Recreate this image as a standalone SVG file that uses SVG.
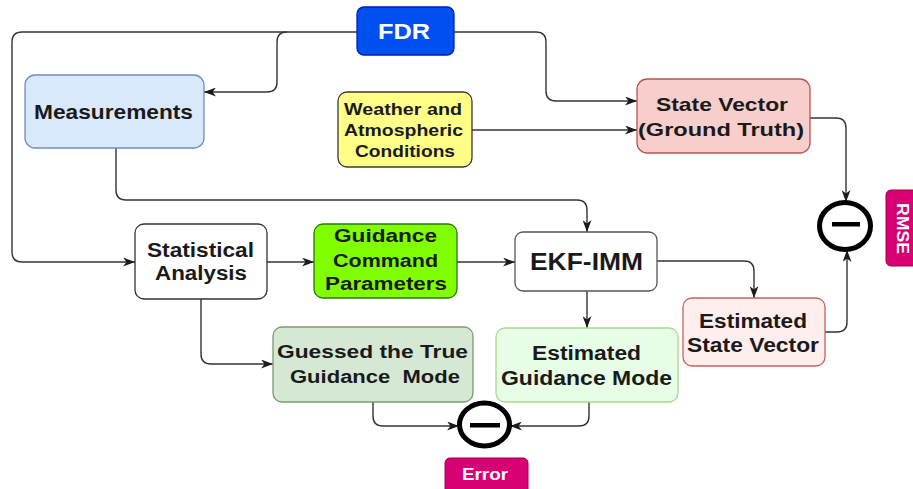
<svg xmlns="http://www.w3.org/2000/svg" width="913" height="489" viewBox="0 0 913 489">
<defs>
<marker id="arr" viewBox="0 0 12 9" refX="12" refY="4.5" markerWidth="12" markerHeight="9" markerUnits="userSpaceOnUse" orient="auto">
<path d="M0,0 L12,4.5 L0,9 L3.5,4.5 z" fill="#1a1a1a"/>
</marker>
</defs>
<style>
text{font-family:"Liberation Sans",Arial,Helvetica,sans-serif;font-weight:bold;text-anchor:middle;fill:#1a1a1a}
.w{fill:#ffffff}
.c{fill:none;stroke:#333333;stroke-width:1.4;marker-end:url(#arr)}
.n{stroke-width:1.3}
.op{fill:none;stroke:#000000;stroke-width:5}
</style>
<rect width="913" height="489" fill="#ffffff"/>
<g id="connectors">
<path class="c" d="M357,32 H22 Q12,32 12,42 V252 Q12,262 22,262 H135"/>
<path class="c" d="M287,32 Q277,32 277,42 V82 Q277,92 267,92 H204"/>
<path class="c" d="M454,32 H536 Q546,32 546,42 V91 Q546,101 556,101 H637"/>
<path class="c" d="M472,130 H637"/>
<path class="c" d="M116,148 V190 Q116,200 126,200 H577 Q587,200 587,210 V232"/>
<path class="c" d="M810,118 H836 Q846,118 846,128 V202"/>
<path class="c" d="M825,332 H837 Q847,332 847,322 V250"/>
<path class="c" d="M267,262 H314"/>
<path class="c" d="M457,262 H515"/>
<path class="c" d="M657,261 H744 Q754,261 754,271 V298"/>
<path class="c" d="M587,291 V328"/>
<path class="c" d="M201,299 V354 Q201,364 211,364 H273"/>
<path class="c" d="M373,402 V416 Q373,426 383,426 H459"/>
<path class="c" d="M589,402 V416 Q589,426 579,426 H510"/>
</g>
<g id="fdr">
<rect class="n" x="357" y="7" width="97" height="48" rx="7" fill="#0050ef" stroke="#001dbc"/>
<text class="w" x="404" y="39" font-size="22" textLength="52" lengthAdjust="spacingAndGlyphs">FDR</text>
</g>
<g id="measurements">
<rect class="n" x="25" y="75" width="179" height="73" rx="10" fill="#dae8fc" stroke="#6c8ebf"/>
<text x="113.5" y="119" font-size="21" textLength="159" lengthAdjust="spacingAndGlyphs">Measurements</text>
</g>
<g id="weather">
<rect class="n" x="338" y="92" width="134" height="75" rx="9" fill="#ffff88" stroke="#36393d"/>
<text x="403" y="115" font-size="16.5" textLength="118" lengthAdjust="spacingAndGlyphs">Weather and</text>
<text x="403.5" y="136" font-size="16.5" textLength="119" lengthAdjust="spacingAndGlyphs">Atmospheric</text>
<text x="405" y="157" font-size="16.5" textLength="100" lengthAdjust="spacingAndGlyphs">Conditions</text>
</g>
<g id="state-vector">
<rect class="n" x="637" y="79" width="173" height="74" rx="10" fill="#f8cecc" stroke="#b85450"/>
<text x="722" y="111" font-size="18.5" textLength="132" lengthAdjust="spacingAndGlyphs">State Vector</text>
<text x="721" y="136" font-size="18.5" textLength="166" lengthAdjust="spacingAndGlyphs">(Ground Truth)</text>
</g>
<g id="rmse-op">
<ellipse class="op" cx="845" cy="226" rx="25.5" ry="23.5"/>
<rect x="832" y="222" width="28" height="4.5" fill="#000000"/>
</g>
<g id="rmse">
<rect x="886" y="190" width="40" height="76" rx="5" fill="#d80073" stroke="#a50040" stroke-width="1"/>
<text class="w" transform="translate(897,228.5) rotate(90)" x="0" y="0" font-size="17" textLength="51" lengthAdjust="spacingAndGlyphs">RMSE</text>
</g>
<g id="statistical-analysis">
<rect class="n" x="135" y="224" width="132" height="75" rx="9" fill="#ffffff" stroke="#333333"/>
<text x="200.5" y="257" font-size="20" textLength="107" lengthAdjust="spacingAndGlyphs">Statistical</text>
<text x="201" y="280" font-size="20" textLength="92" lengthAdjust="spacingAndGlyphs">Analysis</text>
</g>
<g id="guidance-command">
<rect class="n" x="314" y="224" width="143" height="74" rx="9" fill="#80ff00" stroke="#2d7600"/>
<text x="385.5" y="242" font-size="17.5" textLength="103" lengthAdjust="spacingAndGlyphs">Guidance</text>
<text x="385.5" y="267" font-size="17.5" textLength="105" lengthAdjust="spacingAndGlyphs">Command</text>
<text x="386" y="290" font-size="17.5" textLength="122" lengthAdjust="spacingAndGlyphs">Parameters</text>
</g>
<g id="ekf-imm">
<rect class="n" x="515" y="232" width="142" height="59" rx="8" fill="#ffffff" stroke="#555555"/>
<text x="586.5" y="270" font-size="23" textLength="113" lengthAdjust="spacingAndGlyphs">EKF-IMM</text>
</g>
<g id="estimated-state-vector">
<rect class="n" x="683" y="298" width="142" height="68" rx="9" fill="#ffeeee" stroke="#c8605c"/>
<text x="753" y="328" font-size="20" textLength="108" lengthAdjust="spacingAndGlyphs">Estimated</text>
<text x="753" y="352" font-size="20" textLength="132" lengthAdjust="spacingAndGlyphs">State Vector</text>
</g>
<g id="guessed-mode">
<rect class="n" x="273" y="327" width="200" height="75" rx="9" fill="#d5e8d4" stroke="#7a9a6f"/>
<text x="372.5" y="358" font-size="17.5" textLength="191" lengthAdjust="spacingAndGlyphs">Guessed the True</text>
<text xml:space="preserve" x="375" y="383" font-size="17.5" textLength="170" lengthAdjust="spacingAndGlyphs">Guidance  Mode</text>
</g>
<g id="estimated-guidance-mode">
<rect class="n" x="496" y="328" width="182" height="74" rx="9" fill="#e8fde6" stroke="#a8d890"/>
<text x="586.5" y="360" font-size="20" textLength="109" lengthAdjust="spacingAndGlyphs">Estimated</text>
<text x="586.5" y="385" font-size="20" textLength="171" lengthAdjust="spacingAndGlyphs">Guidance Mode</text>
</g>
<g id="error-op">
<ellipse class="op" cx="484.5" cy="424.5" rx="25" ry="21.5"/>
<rect x="470" y="423" width="30" height="4.5" fill="#000000"/>
</g>
<g id="error">
<rect x="445" y="458" width="83" height="40" rx="5" fill="#d80073" stroke="#a50040" stroke-width="1"/>
<text class="w" x="485" y="480" font-size="17" textLength="46" lengthAdjust="spacingAndGlyphs">Error</text>
</g>
</svg>
